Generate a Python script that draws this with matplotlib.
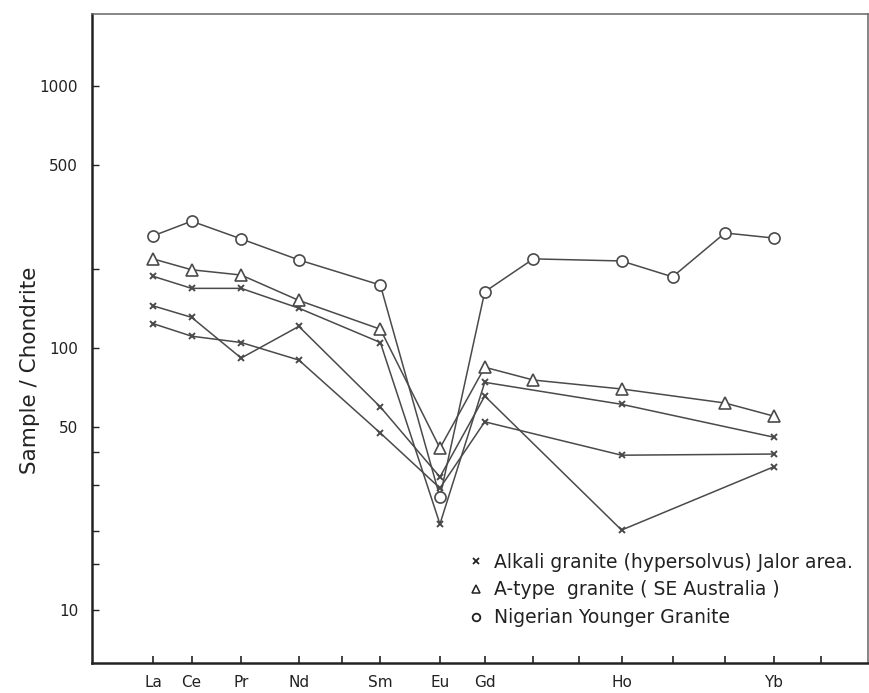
import numpy as np
import matplotlib
matplotlib.use("Agg")
import matplotlib.pyplot as plt
from matplotlib.lines import Line2D

# rare earth elements along the x axis
elements = ["La", "Ce", "Pr", "Nd", "Pm", "Sm", "Eu", "Gd", "Tb", "Dy", "Ho", "Er", "Tm", "Yb", "Lu"]
labelled = ["La", "Ce", "Pr", "Nd", "Sm", "Eu", "Gd", "Ho", "Yb"]

# chondrite normalised values
alkali_elems = ["La", "Ce", "Pr", "Nd", "Sm", "Eu", "Gd", "Ho", "Yb"]
alkali_1 = [188, 169, 169, 142, 105, 21.3, 74, 61, 45.7]
alkali_2 = [145, 131, 91.6, 121, 59.6, 32.2, 65.6, 20.2, 35.2]
alkali_3 = [124, 111, 105, 90, 47.4, 29.2, 52.3, 39, 39.4]

atype_elems = ["La", "Ce", "Pr", "Nd", "Sm", "Eu", "Gd", "Tb", "Ho", "Tm", "Yb"]
atype = [219, 199, 190, 152, 118, 41.5, 84.5, 75.5, 69.8, 61.7, 55]

nigeria_elems = ["La", "Ce", "Pr", "Nd", "Sm", "Eu", "Gd", "Tb", "Ho", "Er", "Tm", "Yb"]
nigeria = [268, 305, 261, 217, 174, 27, 164, 219, 215, 187, 275, 263]

legend_labels = ["Alkali granite (hypersolvus) Jalor area.",
                 "A-type  granite ( SE Australia )",
                 "Nigerian Younger Granite"]

# hand spaced element positions on the axis
element_x = [0.0, 0.81, 1.85, 3.06, 3.96, 4.77, 6.02, 6.96, 7.98, 8.94, 9.83, 10.9, 12.0, 13.02, 14.02]
pos = dict(zip(elements, element_x))

line_col = "#4a4a4a"
text_col = "#222222"

fig = plt.figure(figsize=(8.7, 6.93), dpi=100)
ax = fig.add_axes([0.1057, 0.0433, 0.892, 0.9365])

def draw(elems, vals, marker, ms, mew):
    ax.plot([pos[e] for e in elems], vals, color=line_col, lw=1.1,
            marker=marker, ms=ms, mfc="white", mec=line_col, mew=mew)

draw(alkali_elems, alkali_1, "x", 5, 1.4)
draw(alkali_elems, alkali_2, "x", 5, 1.4)
draw(alkali_elems, alkali_3, "x", 5, 1.4)
draw(atype_elems, atype, "^", 8, 1.2)
draw(nigeria_elems, nigeria, "o", 8, 1.2)

ax.set_yscale("log")
ax.set_ylim(6.28, 1884)
ax.set_xlim(-1.28, 15.0)

ax.set_yticks([10, 50, 100, 500, 1000])
ax.set_yticklabels(["10", "50", "100", "500", "1000"])
ax.set_yticks([15, 20, 30, 40, 200], minor=True)
ax.yaxis.set_minor_formatter(plt.NullFormatter())
ax.tick_params(axis="y", which="both", direction="in", length=5, width=1,
               labelsize=11, colors=text_col, pad=10)

ax.set_xticks(element_x)
ax.set_xticklabels([e if e in labelled else "" for e in elements])
ax.tick_params(axis="x", direction="in", length=5, width=1.2,
               labelsize=11, colors=text_col, pad=9)

for side in ["left", "bottom"]:
    ax.spines[side].set_linewidth(1.8)
    ax.spines[side].set_color(text_col)
for side in ["top", "right"]:
    ax.spines[side].set_linewidth(1.1)
    ax.spines[side].set_color("#666666")

fig.text(0.035, 0.466, "Sample / Chondrite", rotation=90, fontsize=15.5,
         color=text_col, ha="center", va="center")

handles = [
    Line2D([], [], ls="none", marker="x", ms=5, mec=text_col, mew=1.3),
    Line2D([], [], ls="none", marker="^", ms=6, mfc="white", mec=text_col, mew=1.1),
    Line2D([], [], ls="none", marker="o", ms=5.5, mfc="white", mec=text_col, mew=1.3),
]
ax.legend(handles, legend_labels, loc="upper left", bbox_to_anchor=(0.463, 0.196),
          frameon=False, fontsize=13.5, handlelength=0.8, handletextpad=0.6,
          labelspacing=0.47, labelcolor=text_col)

fig.savefig("out.png", dpi=100, facecolor="white")
